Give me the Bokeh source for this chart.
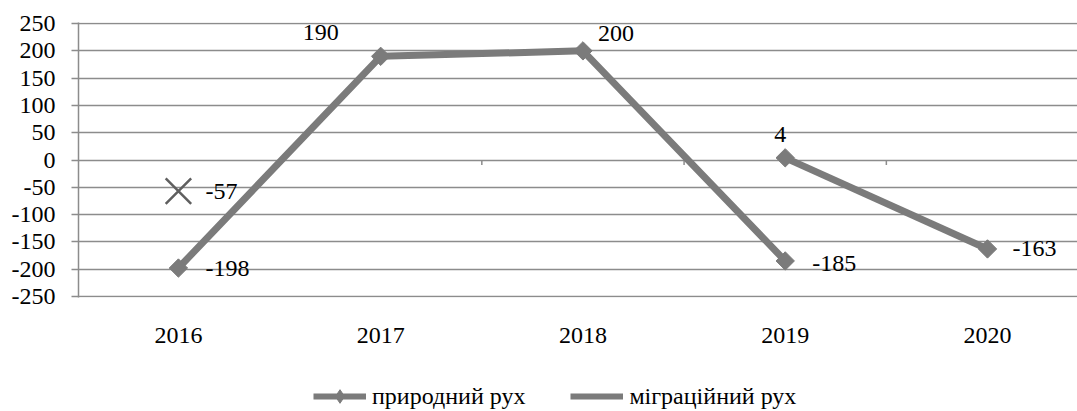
import math
from bokeh.plotting import figure
from bokeh.layouts import column
from bokeh.models import ColumnDataSource, Range1d, Legend, LegendItem
from bokeh.core.properties import value
from bokeh.embed import file_html
from bokeh.resources import INLINE

# ---- data ----
years = ["2016", "2017", "2018", "2019", "2020"]
natural = [-198, 190, 200, -185, None]      # природний рух
migration = [-57, None, None, 4, -163]      # міграційний рух
y_ticks = list(range(-250, 251, 50))
series_names = ["природний рух", "міграційний рух"]

# ---- label placement (style, screen px) ----
nat_lbl_dx = [27, -42, 15, 27, 0]
nat_lbl_dy = [0, -24, -17, 3, 0]
nat_lbl_align = ["left", "right", "left", "left", "left"]
mig_lbl_dx = [27, 0, 0, -5, 25]
mig_lbl_dy = [0, 0, 0, -23, 0]
mig_lbl_align = ["left", "left", "left", "center", "left"]

FONT = "Liberation Serif"
FS = "24px"
LINE = "#7b7b7b"
GRID = "#8c8c8c"
XMARK = "#5f5f5f"
DIAMOND = dict(marker="square", angle=math.pi / 4, size=13)

nan = float("nan")
xs = list(range(len(years)))


def clean(a):
    return [nan if v is None else v for v in a]


p = figure(width=1077, height=364, output_backend="svg", toolbar_location=None,
           x_range=Range1d(-0.494, 4.445), y_range=Range1d(-252, 252),
           min_border_left=78, min_border_right=0, min_border_top=22,
           min_border_bottom=67)
p.outline_line_color = None
p.background_fill_color = "white"
p.border_fill_color = "white"

# axes
p.yaxis.ticker = y_ticks
p.yaxis.major_label_overrides = {t: str(t) for t in y_ticks}
p.yaxis.axis_line_color = GRID
p.yaxis.axis_line_width = 1.5
p.yaxis.major_tick_line_color = GRID
p.yaxis.major_tick_line_width = 1.5
p.yaxis.major_tick_out = 7
p.yaxis.major_tick_in = 0
p.yaxis.minor_tick_line_color = None
p.yaxis.major_label_standoff = 16
p.yaxis.major_label_text_font = FONT
p.yaxis.major_label_text_font_size = FS
p.yaxis.major_label_text_color = "black"

p.xaxis.ticker = xs
p.xaxis.major_label_overrides = {i: y for i, y in enumerate(years)}
p.xaxis.axis_line_color = None
p.xaxis.major_tick_line_color = None
p.xaxis.minor_tick_line_color = None
p.xaxis.major_label_standoff = 24
p.xaxis.major_label_text_font = FONT
p.xaxis.major_label_text_font_size = FS
p.xaxis.major_label_text_color = "black"

p.xgrid.visible = False
p.ygrid.ticker = y_ticks
p.ygrid.grid_line_color = GRID
p.ygrid.grid_line_width = 1.5

# category boundary tick marks on the zero line
bounds = [i + 0.5 for i in range(len(years) - 1)]
p.segment(x0=bounds, y0=[0] * len(bounds), x1=bounds, y1=[-9] * len(bounds),
          line_color=GRID, line_width=1.5)

# natural movement
p.line(xs, clean(natural), line_color=LINE, line_width=7, line_join="round")
nat_idx = [i for i, v in enumerate(natural) if v is not None]
p.scatter([xs[i] for i in nat_idx], [natural[i] for i in nat_idx],
          fill_color=LINE, line_color=LINE, **DIAMOND)

# migration movement
p.line(xs, clean(migration), line_color=LINE, line_width=7, line_join="round")


def isolated(a, i):
    left = a[i - 1] if i > 0 else None
    right = a[i + 1] if i < len(a) - 1 else None
    return left is None and right is None


mig_conn = [i for i, v in enumerate(migration) if v is not None and not isolated(migration, i)]
mig_iso = [i for i, v in enumerate(migration) if v is not None and isolated(migration, i)]
p.scatter([xs[i] for i in mig_conn], [migration[i] for i in mig_conn],
          fill_color=LINE, line_color=LINE, **DIAMOND)
p.scatter([xs[i] for i in mig_iso], [migration[i] for i in mig_iso],
          marker="x", size=36, line_color=XMARK, line_width=2.5)


# data labels
def add_labels(vals, dxs, dys, aligns):
    for align in ("left", "right", "center"):
        idx = [i for i, v in enumerate(vals) if v is not None and aligns[i] == align]
        if not idx:
            continue
        src = ColumnDataSource(dict(
            x=[xs[i] for i in idx], y=[vals[i] for i in idx],
            t=[str(vals[i]) for i in idx],
            dx=[dxs[i] for i in idx], dy=[dys[i] for i in idx]))
        p.text(x="x", y="y", text="t", x_offset="dx", y_offset="dy", source=src,
               text_align=align, text_baseline="middle",
               text_font=value(FONT), text_font_size=FS, text_color="black")


add_labels(natural, nat_lbl_dx, nat_lbl_dy, nat_lbl_align)
add_labels(migration, mig_lbl_dx, mig_lbl_dy, mig_lbl_align)

# ---- legend strip (frame aligned with main plot frame) ----
lg = figure(width=1077, height=47, output_backend="svg", toolbar_location=None,
            x_range=Range1d(0, 1), y_range=Range1d(0, 1),
            x_axis_location=None, y_axis_location=None, min_border=0)
lg.outline_line_color = None
lg.grid.visible = False
off = [-10, -9]  # proxies outside the visible range, drawn only in the legend
lg_nat_line = lg.line(off, off, line_color=LINE, line_width=6)
lg_nat_pts = lg.scatter(off, off, marker="diamond", size=15, fill_color=LINE, line_color=LINE)
lg_mig_line = lg.line(off, off, line_color=LINE, line_width=6)

legend = Legend(items=[
    LegendItem(label=series_names[0], renderers=[lg_nat_line, lg_nat_pts]),
    LegendItem(label=series_names[1], renderers=[lg_mig_line]),
], location=(235, -2), orientation="horizontal")
legend.label_text_font = FONT
legend.label_text_font_size = FS
legend.label_text_color = "black"
legend.glyph_width = 53
legend.glyph_height = 34
legend.label_standoff = 6
legend.spacing = 45
legend.padding = 0
legend.margin = 0
legend.border_line_color = None
legend.background_fill_alpha = 0
lg.add_layout(legend, "center")

layout = column(p, lg, spacing=0)
open("out.html", "w").write(file_html(layout, INLINE))
